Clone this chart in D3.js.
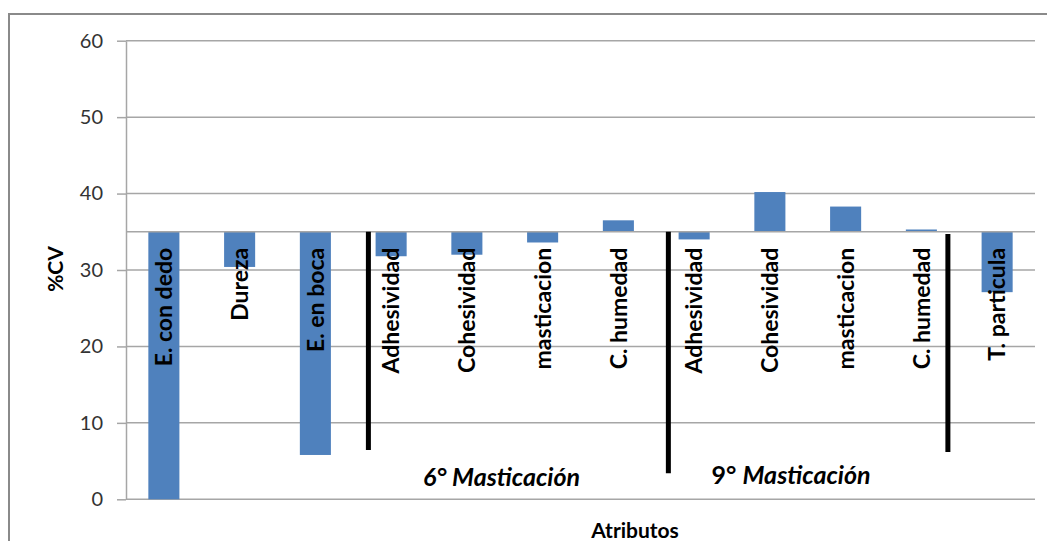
<!DOCTYPE html>
<html>
<head>
<meta charset="utf-8">
<script src="https://cdn.jsdelivr.net/npm/d3@7"></script>
<style>
  html, body { margin: 0; padding: 0; background: #fff; }
  svg { display: block; font-family: Lato, "Open Sans", sans-serif; }
</style>
</head>
<body>
<svg id="chart" width="1047" height="541"></svg>
<script>
// Attribute names along the horizontal axis
const categories = ["E. con dedo", "Dureza", "E. en boca",
  "Adhesividad", "Cohesividad", "masticacion", "C. humedad",
  "Adhesividad", "Cohesividad", "masticacion", "C. humedad",
  "T. particula"];
// %CV per attribute
const values = [0, 30.4, 5.8, 31.8, 32.0, 33.6, 36.5, 34.0, 40.2, 38.3, 35.3, 27.1];
// value where the category axis crosses
const crossAt = 35;
const yTicks = [0, 10, 20, 30, 40, 50, 60];
// group separators: position in category units, from / to value
const sepPos = [3.2, 7.16, 10.85];
const sepFrom = [35, 35, 34.7];
const sepTo = [6.45, 3.4, 6.2];
// group captions: start in category units, baseline value
const groupNums = ["6°", "9°"];
const groupWords = ["Masticación", "Masticación"];
const groupPos = [3.92, 7.73];
const groupVal = [1.7, 2.05];

const svg = d3.select("#chart");
const plotLeft = 126, plotRight = 1035, plotTop = 40.7, plotBottom = 499.3;

const y = d3.scaleLinear().domain([0, 60]).range([plotBottom, plotTop]);
const x = d3.scaleBand().domain(d3.range(categories.length))
  .range([plotLeft, plotRight]).paddingInner(0.59).paddingOuter(0.295);
const xc = d3.scaleLinear().domain([0, categories.length]).range([plotLeft, plotRight]);

// outer frame of the chart area
svg.append("path")
  .attr("d", "M9,560 L9,14 L1060,14")
  .attr("fill", "none").attr("stroke", "#8a8a8a").attr("stroke-width", 2);

// gridlines
svg.append("g").selectAll("line").data(yTicks).join("line")
  .attr("x1", plotLeft).attr("x2", plotRight)
  .attr("y1", d => y(d)).attr("y2", d => y(d))
  .attr("stroke", "#a6a6a6").attr("stroke-width", 1.5);

// value axis
const yAxis = svg.append("g").attr("transform", `translate(${plotLeft},0)`)
  .call(d3.axisLeft(y).tickValues(yTicks).tickSize(9).tickSizeOuter(0).tickPadding(14));
yAxis.select(".domain").attr("stroke", "#a6a6a6").attr("stroke-width", 1.5);
yAxis.selectAll(".tick line").attr("stroke", "#a6a6a6").attr("stroke-width", 1.5);
yAxis.selectAll(".tick text").attr("font-size", 20).attr("fill", "#333")
  .attr("font-family", "Lato, sans-serif");

// bars hang from the crossing value
svg.append("g").selectAll("rect").data(values).join("rect")
  .attr("x", (d, i) => x(i))
  .attr("width", x.bandwidth())
  .attr("y", d => y(Math.max(d, crossAt)))
  .attr("height", d => Math.abs(y(d) - y(crossAt)))
  .attr("fill", "#4f81bd");

// category axis line at the crossing value
svg.append("line")
  .attr("x1", plotLeft).attr("x2", plotRight)
  .attr("y1", y(crossAt)).attr("y2", y(crossAt))
  .attr("stroke", "#a6a6a6").attr("stroke-width", 1.5);

// category labels, rotated
svg.append("g").selectAll("text").data(categories).join("text")
  .attr("transform", (d, i) => `translate(${x(i) + x.bandwidth() / 2},${y(crossAt) + 16}) rotate(-90)`)
  .attr("text-anchor", "end")
  .attr("dy", "0.36em")
  .attr("font-size", 23).attr("font-weight", "bold").attr("fill", "#000")
  .text(d => d);

// group separators
svg.append("g").selectAll("line").data(sepPos).join("line")
  .attr("x1", d => xc(d)).attr("x2", d => xc(d))
  .attr("y1", (d, i) => y(sepFrom[i])).attr("y2", (d, i) => y(sepTo[i]))
  .attr("stroke", "#000").attr("stroke-width", 5);

// group captions
const cap = svg.append("g").selectAll("text").data(groupPos).join("text")
  .attr("x", d => xc(d)).attr("y", (d, i) => y(groupVal[i]))
  .attr("font-size", 25).attr("font-weight", "bold").attr("fill", "#000");
cap.append("tspan").attr("font-style", (d, i) => i === 0 ? "italic" : "normal")
  .text((d, i) => groupNums[i] + " ");
cap.append("tspan").attr("font-style", "italic").text((d, i) => groupWords[i]);

// axis titles
svg.append("text")
  .attr("transform", `translate(63,${(plotTop + plotBottom) / 2 - 1}) rotate(-90)`)
  .attr("text-anchor", "middle")
  .attr("font-size", 21).attr("font-weight", "bold").attr("fill", "#000")
  .text("%CV");

svg.append("text")
  .attr("x", 635).attr("y", 538)
  .attr("text-anchor", "middle")
  .attr("font-size", 21).attr("font-weight", "bold").attr("fill", "#000")
  .text("Atributos");
</script>
</body>
</html>
